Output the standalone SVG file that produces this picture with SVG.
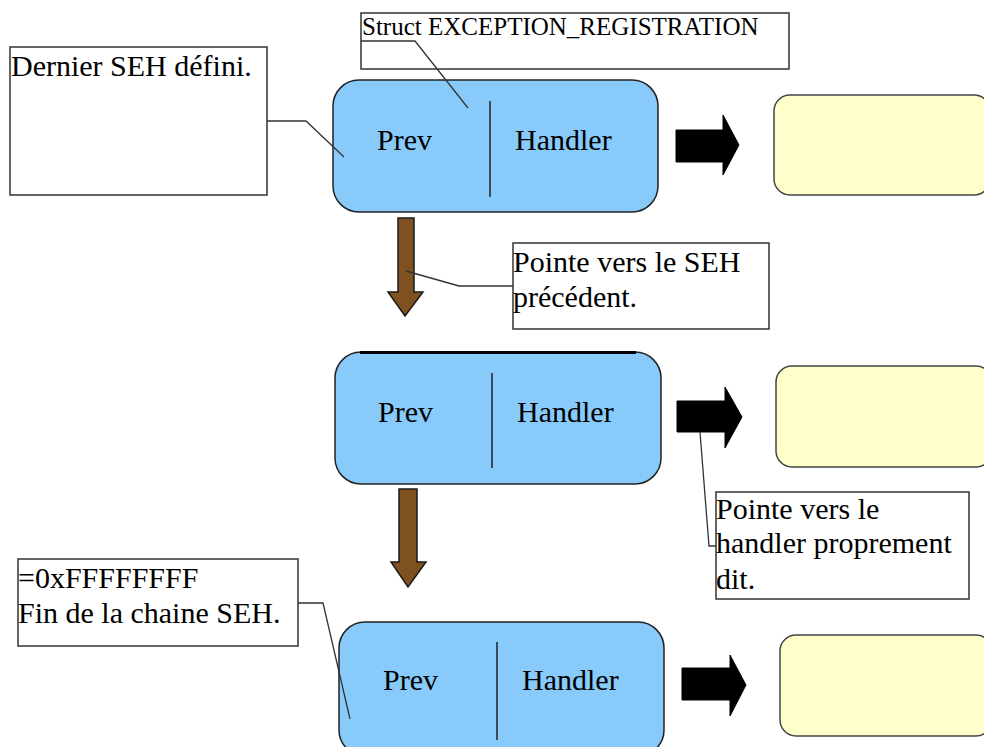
<svg xmlns="http://www.w3.org/2000/svg" width="984" height="747" viewBox="0 0 984 747">
  <style>
    text { font-family: "Liberation Serif", "Times New Roman", serif; font-size: 30px; fill: #000; }
    .note { fill: #fff; stroke: #333; stroke-width: 1.5; }
    .rec { fill: #88CBFB; stroke: #222; stroke-width: 1.5; }
    .div { stroke: #3a4a5a; stroke-width: 2; }
    .hnd { fill: #FFFFCC; stroke: #444; stroke-width: 1.5; }
    .fwd { fill: #000; stroke: #000; stroke-width: 1; }
    .back { fill: #7F5020; stroke: #1a1a1a; stroke-width: 1.5; }
    .lead { fill: none; stroke: #333; stroke-width: 1.3; }
  </style>

  <!-- Registration record 1 -->
  <g id="rec1">
    <rect class="rec" x="333" y="80" width="325" height="132" rx="26"/>
    <line class="div" x1="490" y1="101" x2="490" y2="197"/>
    <text x="377" y="150">Prev</text>
    <text x="515" y="150">Handler</text>
  </g>
  <g id="handler1">
    <rect class="hnd" x="774" y="95" width="216" height="100" rx="16"/>
  </g>

  <!-- Registration record 2 -->
  <g id="rec2">
    <rect class="rec" x="335" y="352" width="326" height="132" rx="26"/>
    <path d="M 360 352.5 H 636" stroke="#000" stroke-width="3" fill="none"/>
    <line class="div" x1="492" y1="373" x2="492" y2="468"/>
    <text x="378" y="422">Prev</text>
    <text x="517" y="422">Handler</text>
  </g>
  <g id="handler2">
    <rect class="hnd" x="776" y="366" width="216" height="101" rx="16"/>
  </g>

  <!-- Registration record 3 -->
  <g id="rec3">
    <rect class="rec" x="339" y="622" width="325" height="134" rx="26"/>
    <line class="div" x1="497" y1="642" x2="497" y2="740"/>
    <text x="383" y="690">Prev</text>
    <text x="522" y="690">Handler</text>
  </g>
  <g id="handler3">
    <rect class="hnd" x="780" y="635" width="212" height="101" rx="16"/>
  </g>

  <!-- Notes -->
  <g id="note-last">
    <rect class="note" x="10" y="47" width="257" height="148"/>
    <text x="11" y="76">Dernier SEH défini.</text>
  </g>
  <g id="note-struct">
    <rect class="note" x="361" y="13" width="428" height="56"/>
    <text x="362" y="35" style="font-size:25px">Struct EXCEPTION_REGISTRATION</text>
  </g>
  <g id="note-prev">
    <rect class="note" x="513" y="243" width="256" height="86"/>
    <text x="513" y="272">Pointe vers le SEH</text>
    <text x="513" y="307">précédent.</text>
  </g>
  <g id="note-handler">
    <rect class="note" x="716" y="492" width="253" height="107"/>
    <text x="716" y="519">Pointe vers le</text>
    <text x="716" y="553">handler proprement</text>
    <text x="716" y="589">dit.</text>
  </g>
  <g id="note-end">
    <rect class="note" x="18" y="559" width="280" height="87"/>
    <text x="18" y="588">=0xFFFFFFFF</text>
    <text x="18" y="623">Fin de la chaine SEH.</text>
  </g>

  <!-- Connectors: block arrows and leader lines -->
  <g id="connectors">
    <polygon class="fwd" points="676,130 723,130 723,115 739,145 723,175 723,162 676,162"/>
    <polygon class="fwd" points="677,401 725,401 725,387 742,417 725,448 725,432 677,432"/>
    <polygon class="fwd" points="682,668 730,668 730,655 746,685 730,716 730,700 682,700"/>

    <polygon class="back" points="398,218 414,218 414,292 423,292 405,316 388,292 398,292"/>
    <polygon class="back" points="399,489 417,489 417,562 426,562 408,587 391,562 399,562"/>

    <polyline class="lead" points="361,41 415,41 468,108"/>
    <polyline class="lead" points="267,121 306,121 344,157"/>
    <polyline class="lead" points="513,286 459,286 406,271"/>
    <polyline class="lead" points="700,432 709,546 716,546"/>
    <polyline class="lead" points="298,603 323,603 350,719"/>
  </g>
</svg>
